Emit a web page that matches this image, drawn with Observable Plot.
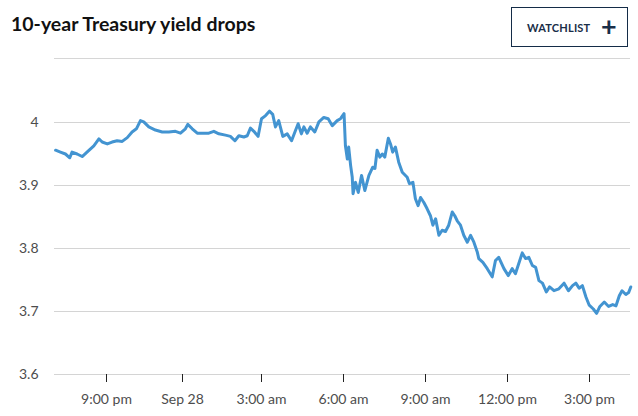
<!DOCTYPE html>
<html>
<head>
<meta charset="utf-8">
<script src="https://cdn.jsdelivr.net/npm/d3@7"></script>
<script src="https://cdn.jsdelivr.net/npm/@observablehq/plot@0.6"></script>
<style>
  body { margin: 0; background: #fff; font-family: Lato, "Open Sans", sans-serif; }
  #wrap { position: relative; width: 638px; height: 416px; overflow: hidden; }
  #header { position: relative; height: 58px; }
  #title { position: absolute; left: 11px; top: 14px; font-size: 19.5px; line-height: 19.5px; font-weight: 700; color: #111; white-space: nowrap; }
  #btn { position: absolute; left: 511px; top: 7px; width: 115px; height: 38px; border: 1.5px solid #142c47; }
  #btn .lbl { position: absolute; left: 15px; top: 14px; font-size: 11px; line-height: 11px; font-weight: 700; color: #1a2e48; letter-spacing: 0.2px; }
  #btn .plus { position: absolute; left: 89px; top: 4px; font-size: 27px; line-height: 27px; font-weight: 700; color: #1a2e48; }
  #sep { position: absolute; left: 54px; top: 58px; width: 576px; height: 1px; background: #d6d6d6; }
  #chart svg { display: block; }
</style>
</head>
<body>
<div id="wrap">
  <div id="header">
    <div id="title">10-year Treasury yield drops</div>
    <div id="btn"><span class="lbl">WATCHLIST</span><span class="plus">+</span></div>
  </div>
  <div id="sep"></div>
  <div id="chart"></div>
</div>
<script>
// hours since Sep 27 00:00 (x) and 10-year yield in % (y)
const times = [
  18.99, 19.18, 19.38, 19.55, 19.64, 19.84, 20.04, 20.23, 20.50, 20.70, 20.83, 21.03, 21.22, 21.42, 21.62, 21.82,
  22.01, 22.18, 22.34, 22.47, 22.67, 22.93, 23.20, 23.46, 23.72, 23.92,
  24.11, 24.20, 24.37, 24.56, 24.75, 25.00, 25.19, 25.38, 25.63, 25.82, 25.99, 26.14, 26.33, 26.46, 26.58, 26.71, 26.87,
  27.00, 27.15, 27.29, 27.41, 27.51, 27.63, 27.78, 27.94, 28.10, 28.24, 28.34, 28.46, 28.55, 28.67, 28.79, 28.95,
  29.10, 29.28, 29.44, 29.59, 29.77, 29.89,
  30.02, 30.07, 30.14, 30.19, 30.26, 30.32, 30.35, 30.44, 30.54, 30.66, 30.78, 30.93, 31.07, 31.15, 31.23, 31.33,
  31.42, 31.51, 31.64, 31.72, 31.80, 31.90, 32.02, 32.15, 32.33, 32.41, 32.54, 32.63, 32.73, 32.82, 32.94,
  33.06, 33.18, 33.27, 33.37, 33.49, 33.61, 33.73, 33.85, 33.98, 34.07, 34.16, 34.28, 34.40, 34.53, 34.65, 34.77, 34.89, 34.95,
  35.10, 35.26, 35.44, 35.56, 35.68, 35.87, 36.03, 36.17, 36.29, 36.54, 36.66, 36.78, 36.91, 37.03, 37.15, 37.28, 37.42,
  37.54, 37.70, 37.88, 38.07, 38.23, 38.38, 38.50, 38.62, 38.74, 38.87, 38.99, 39.14, 39.26, 39.38, 39.54, 39.70,
  39.85, 39.97, 40.09, 40.19, 40.33, 40.43, 40.51
];
const yields = [
  3.956, 3.953, 3.950, 3.944, 3.953, 3.950, 3.946, 3.953, 3.963, 3.974, 3.969, 3.966, 3.969, 3.971, 3.970, 3.976,
  3.985, 3.990, 4.003, 4.001, 3.993, 3.988, 3.985, 3.985, 3.986, 3.983,
  3.990, 3.997, 3.990, 3.983, 3.983, 3.983, 3.986, 3.982, 3.980, 3.978, 3.971, 3.979, 3.977, 3.979, 3.991, 3.986, 3.978,
  4.006, 4.011, 4.018, 4.013, 3.993, 4.003, 3.978, 3.982, 3.971, 3.987, 3.998, 3.982, 3.993, 3.983, 3.993, 3.985,
  4.001, 4.008, 4.006, 3.995, 4.003, 4.006,
  4.014, 3.963, 3.942, 3.961, 3.932, 3.913, 3.887, 3.905, 3.889, 3.916, 3.892, 3.916, 3.929, 3.927, 3.956, 3.945,
  3.950, 3.945, 3.975, 3.966, 3.953, 3.961, 3.937, 3.921, 3.913, 3.903, 3.905, 3.879, 3.868, 3.881, 3.873,
  3.863, 3.852, 3.837, 3.847, 3.821, 3.829, 3.827, 3.837, 3.858, 3.852, 3.844, 3.837, 3.821, 3.810, 3.821, 3.810, 3.795, 3.784,
  3.778, 3.768, 3.755, 3.781, 3.786, 3.768, 3.757, 3.768, 3.760, 3.793, 3.784, 3.786, 3.773, 3.770, 3.749, 3.745, 3.731,
  3.739, 3.733, 3.736, 3.745, 3.733, 3.741, 3.745, 3.737, 3.741, 3.723, 3.710, 3.704, 3.697, 3.708, 3.715, 3.708,
  3.711, 3.709, 3.725, 3.733, 3.727, 3.730, 3.739
];
const tickHours = [21, 24, 27, 30, 33, 36, 39];
const tickLabels = ["9:00 pm", "Sep 28", "3:00 am", "6:00 am", "9:00 am", "12:00 pm", "3:00 pm"];
const yTicks = [3.6, 3.7, 3.8, 3.9, 4];

const data = times.map((t, i) => ({t, v: yields[i]}));

const chart = Plot.plot({
  width: 638,
  height: 358,
  marginLeft: 54,
  marginRight: 8,
  marginTop: 64,
  marginBottom: 42,
  style: {fontFamily: "Lato, 'Open Sans', sans-serif", fontSize: "14px", background: "transparent", overflow: "visible"},
  x: {type: "linear", domain: tickHours, range: [106, 182, 261, 343, 425, 507, 589], label: null},
  y: {domain: [3.6, 4], label: null},
  marks: [
    Plot.gridY(yTicks, {stroke: "#d4d4d4", strokeOpacity: 1}),
    Plot.axisY(yTicks, {tickSize: 0, tickPadding: 16, tickFormat: d => String(d), fill: "#4d4d4d"}),
    Plot.axisX(tickHours, {tickSize: 8, tickPadding: 12, tickFormat: d => tickLabels[tickHours.indexOf(d)], stroke: "#222", fill: "#4d4d4d"}),
    Plot.line(data, {x: "t", y: "v", stroke: "#4394d1", strokeWidth: 3, strokeLinejoin: "round"})
  ]
});
document.getElementById("chart").appendChild(chart);
</script>
</body>
</html>
